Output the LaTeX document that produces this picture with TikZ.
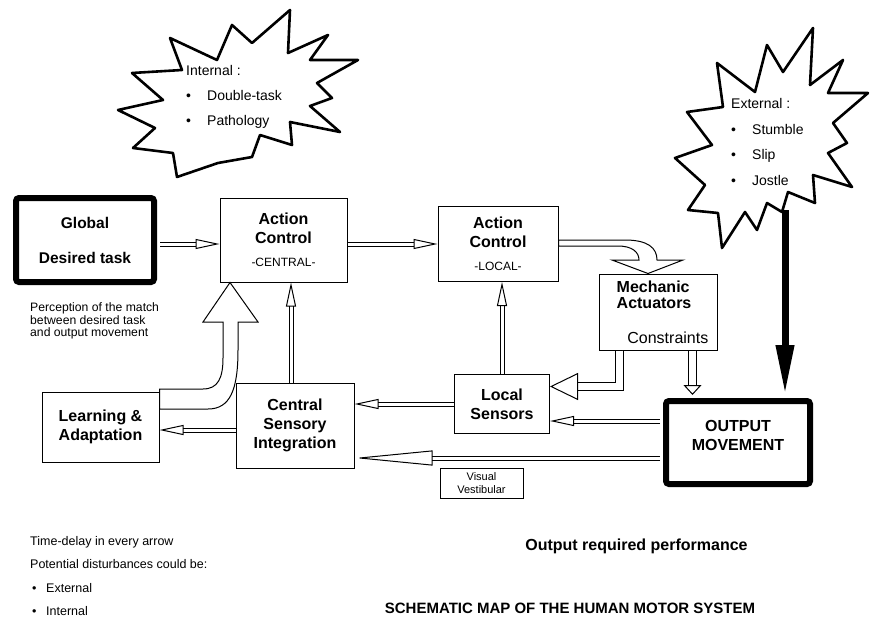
\documentclass[tikz,border=0pt]{standalone}
\usepackage{fontspec}
\setmainfont{Liberation Sans}
\usetikzlibrary{arrows.meta,calc}

\begin{document}
\begin{tikzpicture}[
  x=1pt, y=-1pt,
  box/.style={
    draw,
    line width=1pt,
    fill=white,
    align=center,
    inner sep=0pt,
    font=\bfseries\fontsize{16}{19}\selectfont
  },
  heavy/.style={box, line width=6pt, rounded corners=3pt},
  txt/.style={align=left, inner sep=0pt},
  hollow/.style={
    double, double distance=3pt, line width=1pt,
    -{Triangle[open, length=24pt, width=10pt, line width=1pt]}
  },
  fat/.style={draw, fill=white, line width=1pt},
  burst/.style={draw, fill=white, line width=2.6pt, line join=round}
]
  \useasboundingbox (0,0) rectangle (870,623);

  % disturbance bursts
  \draw[burst] (290,10) -- (288,53) -- (328,35) -- (310,60) -- (358,60) -- (317,83)
    -- (332,98) -- (310,106) -- (340,132) -- (290,122) -- (292,145) -- (260,135)
    -- (252,157) -- (218,163) -- (177,177) -- (173,153) -- (133,148) -- (155,128)
    -- (118,110) -- (163,100) -- (132,73) -- (182,70) -- (170,38) -- (217,60)
    -- (232,25) -- (252,43) -- cycle;
  \draw[burst] (813,28) -- (810,85) -- (843,60) -- (828,93) -- (868,93) -- (833,123)
    -- (847,143) -- (828,153) -- (852,187) -- (813,175) -- (815,203) -- (788,192)
    -- (782,212) -- (767,203) -- (757,230) -- (745,212) -- (722,248) -- (718,213)
    -- (688,210) -- (705,185) -- (675,158) -- (712,145) -- (687,112) -- (723,107)
    -- (717,63) -- (755,92) -- (767,45) -- (783,72) -- cycle;

  \node[txt, font=\fontsize{14}{25}\selectfont, anchor=west] (inner) at (186,97)
    {Internal :\\\makebox[21pt][l]{\textbullet}Double-task\\\makebox[21pt][l]{\textbullet}Pathology};
  \node[txt, font=\fontsize{14}{25.7}\selectfont, anchor=west] (outer) at (731,142)
    {External :\\\makebox[21pt][l]{\textbullet}Stumble\\\makebox[21pt][l]{\textbullet}Slip\\\makebox[21pt][l]{\textbullet}Jostle};

  % blocks
  \node[heavy, minimum width=138pt, minimum height=84pt, font=\bfseries\fontsize{15.5}{35}\selectfont]
    (glob) at (85,240) {Global\\Desired task};
  \node[box, minimum width=127pt, minimum height=84pt] (acc) at (283.5,240)
    {Action\\Control\\[4pt]{\normalfont\fontsize{12}{14}\selectfont -CENTRAL-}};
  \node[box, minimum width=120pt, minimum height=75pt] (acl) at (498,244)
    {Action\\Control\\[4pt]{\normalfont\fontsize{12}{14}\selectfont -LOCAL-}};
  \node[box, minimum width=118pt, minimum height=76pt,
    label={[txt, font=\bfseries\fontsize{16}{16.5}\selectfont, anchor=north west, xshift=18pt, yshift=-7pt]north west:Mechanic\\Actuators},
    label={[inner sep=0pt, font=\fontsize{16}{19}\selectfont, anchor=south east, xshift=-9pt, yshift=7pt]south east:Constraints}]
    (mech) at (658,312) {};
  \node[box, minimum width=95pt, minimum height=59pt] (lsens) at (502,404) {Local\\Sensors};
  \node[box, minimum width=118pt, minimum height=85pt] (csi) at (295,425.5) {Central\\Sensory\\Integration};
  \node[box, minimum width=117pt, minimum height=70pt] (learn) at (100.5,427) {Learning \&\\Adaptation};
  \node[heavy, minimum width=144pt, minimum height=83pt,
    label={[align=center, inner sep=0pt, font=\bfseries\fontsize{16}{19}\selectfont, yshift=7pt]center:OUTPUT\\MOVEMENT}]
    (out) at (738,442.5) {};
  \node[draw, line width=1pt, minimum width=83pt, minimum height=30pt, align=center, inner sep=0pt,
    font=\fontsize{11}{13}\selectfont] (vis) at (481.5,483) {Visual\\Vestibular};

  % connectors
  \draw[hollow, shorten <=3pt] ([yshift=-4pt]glob.east) -- ([yshift=-4pt]glob.east -| acc.west);
  \draw[hollow] (acc.east |- acl.west) -- (acl.west);
  \draw[hollow] (lsens.north) -- (lsens.north |- acl.south);
  \draw[hollow] ([xshift=-4pt]csi.north) -- ([xshift=-4pt]csi.north |- acc.south);
  \draw[hollow] (lsens.west) -- (lsens.west -| csi.east);
  \draw[hollow] ([yshift=-4.5pt]csi.west) -- ([yshift=-4.5pt]csi.west -| learn.east);
  \draw[hollow, shorten <=3pt] ([yshift=21.5pt]out.west) -- ([yshift=21.5pt]out.west -| lsens.east);
  \draw[hollow, shorten <=3pt, -{Triangle[open, length=78pt, width=15pt, line width=1pt]}]
    ([yshift=-15.5pt]out.west) -- ([yshift=-15.5pt]out.west -| csi.east);
  \draw[hollow, double distance=6.5pt, -{Triangle[open, length=28pt, width=27pt, line width=1pt]}]
    ([xshift=-38.5pt]mech.south) |- ([yshift=17.5pt]lsens.east);
  \draw[hollow, double distance=7pt, shorten >=3pt, -{Triangle[open, length=10pt, width=18pt, line width=1pt]}]
    ([xshift=34.5pt]mech.south) -- ([xshift=34.5pt]mech.south |- out.north);

  \coordinate (jolt) at (785,210);
  \draw[line width=7pt, shorten >=3pt, -{Triangle[length=50pt, width=17pt]}] (jolt) -- (jolt |- out.north);

  % curved block arrows
  \draw[fat] (acl.east |- 0,240) -- (625,240) .. controls (648,240) and (657,248) .. (657,260)
    -- (683,260) -- (mech.north -| 648,0) -- (612,260) -- (639,260)
    .. controls (639,252) and (632,246) .. (618,246) -- (acl.east |- 0,246) -- cycle;
  \draw[fat] (learn.east |- 0,389) -- (203,389) .. controls (218,389) and (223,378) .. (223,358)
    -- (223,322) -- (203,322) -- (acc.south -| 230,0) -- (258,322) -- (238,322)
    -- (238,350) .. controls (238,390) and (230,409) .. (208,409) -- (learn.east |- 0,409) -- cycle;

  % notes
  \node[txt, font=\fontsize{12.2}{12.7}\selectfont, anchor=west] (match) at (30,321)
    {Perception of the match\\between desired task\\and output movement};
  \node[txt, font=\fontsize{12.5}{23.5}\selectfont, anchor=west] (notes) at (30,576)
    {Time-delay in every arrow\\Potential disturbances could be:\\
     \hspace*{2pt}\makebox[14pt][l]{\textbullet}External\\\hspace*{2pt}\makebox[14pt][l]{\textbullet}Internal};
  \node[font=\bfseries\fontsize{16}{18}\selectfont] (perf) at (636.5,546) {Output required performance};
  \node[font=\bfseries\fontsize{15}{17}\selectfont] (title) at (570,608) {SCHEMATIC MAP OF THE HUMAN MOTOR SYSTEM};
\end{tikzpicture}
\end{document}
